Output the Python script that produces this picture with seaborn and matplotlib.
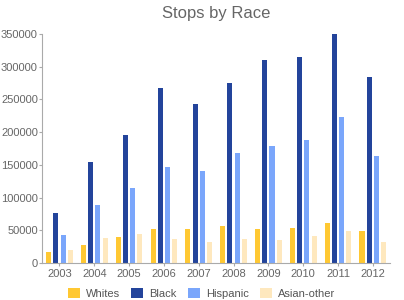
import matplotlib
matplotlib.use("Agg")
import matplotlib.pyplot as plt
import seaborn as sns
import pandas as pd
from matplotlib.patches import Patch

years = ["2003", "2004", "2005", "2006", "2007", "2008", "2009", "2010", "2011", "2012"]
races = ["Whites", "Black", "Hispanic", "Asian-other"]
whites = [17000, 28000, 40000, 52000, 51500, 56500, 51500, 53500, 60600, 48900]
black = [77000, 154000, 196000, 267000, 242500, 274600, 309800, 314400, 350000, 283800]
hispanic = [43000, 89000, 114000, 147000, 140600, 167600, 178800, 188000, 222700, 164000]
asian = [20000, 39000, 45000, 37000, 32100, 37200, 35200, 40800, 48400, 32100]
yticks = [0, 50000, 100000, 150000, 200000, 250000, 300000, 350000]

colors = ["#ffc832", "#23449b", "#7aa6fb", "#fee8be"]

rows = []
for race, vals in zip(races, [whites, black, hispanic, asian]):
    for y, v in zip(years, vals):
        rows.append({"Year": y, "Race": race, "Stops": v})
df = pd.DataFrame(rows)

sns.set_theme(style="white")
plt.rcParams["font.family"] = ["Liberation Sans", "DejaVu Sans"]

fig = plt.figure(figsize=(4.04, 3.00), dpi=100)
ax = fig.add_axes([0.104, 0.123, 0.862, 0.764])

sns.barplot(data=df, x="Year", y="Stops", hue="Race", order=years, hue_order=races,
            palette=colors, width=0.83, gap=0.3, ax=ax, legend=False,
            saturation=1, edgecolor="none", linewidth=0, errorbar=None)

ax.set_xlim(-0.5, 9.5)
ax.set_ylim(0, 350000)
ax.set_yticks(yticks)
ax.set_yticklabels([str(t) for t in yticks])
ax.set_xlabel("")
ax.set_ylabel("")
for s in ["top", "right"]:
    ax.spines[s].set_visible(False)
for s in ["left", "bottom"]:
    ax.spines[s].set_color("#aaaaaa")
    ax.spines[s].set_linewidth(0.8)
ax.tick_params(axis="both", colors="#aaaaaa", labelcolor="#666666", labelsize=8,
               length=2.5, width=0.8, left=True, bottom=True, direction="out")
ax.tick_params(axis="y", pad=0.5)
ax.tick_params(axis="x", pad=1.5)

fig.text(0.535, 0.955, "Stops by Race", ha="center", va="center", fontsize=12, color="#666666")

handles = [Patch(facecolor=c, edgecolor="none") for c in colors]
fig.legend(handles, races, loc="center", bbox_to_anchor=(0.499, 0.022), ncol=4, frameon=False,
           fontsize=8, labelcolor="#555555", handlelength=1.08, handleheight=1.08,
           handletextpad=0.54, columnspacing=1.0, borderaxespad=0, borderpad=0)

fig.savefig("out.png", dpi=100)
